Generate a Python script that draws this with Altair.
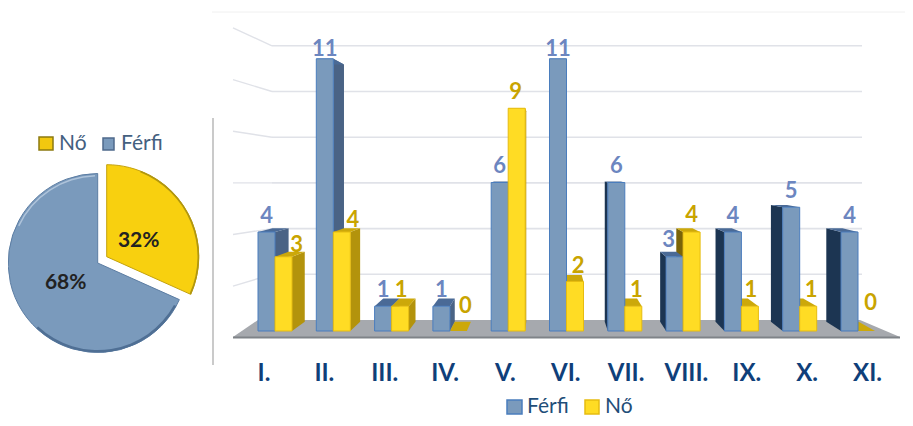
import altair as alt
import pandas as pd

# ---------- data ----------
categories = ["I.", "II.", "III.", "IV.", "V.", "VI.", "VII.", "VIII.", "IX.", "X.", "XI."]
ferfi = [4, 11, 1, 1, 6, 11, 6, 3, 4, 5, 4]
no = [3, 4, 1, 0, 9, 2, 1, 4, 1, 1, 0]
series_names = ["Férfi", "Nő"]

# ---------- layout (screen geometry of the picture, not data) ----------
W, H = 897, 410
BASE_PX, UNIT_PX = 331.0, 24.75
BAR0_X, BAR_STEP, BAR_W = 258.0, 58.3, 17.0
LABEL0_X, LABEL_STEP = 264.0, 60.35
VX, KX, VY_PX, KY = 547.0, 0.05, 165.0, 0.055
LEGEND_Y = 407
TEXT_SHIFT = 1.5
FONT = "Lato"
nudge_f = [(0, 0), (0, 7), (0, 0), (0, 0), (0, 0), (0, 7), (0, 0), (-6, 0), (0, 0), (0, 0), (0, 0)]
nudge_n = [(13, 5), (11, 4), (1, 0), (7, -9), (-1, 0), (3, 1), (3, 0), (0, -1), (1, 0), (3, 0), (4, -12)]

C = dict(
    f_front="#7A9ABC", f_stroke="#4A7DBD", f_side_l="#4A6385", f_side_r="#1C3552", f_top="#4A6A96",
    n_front="#FFDC24", n_stroke="#E6BC10", n_side_l="#B3930C", n_side_r="#7A6408", n_top="#CCA80A",
    f_label="#6C86C0", n_label="#C9A400", cat="#0F3F7A", legend="#1F4E79", legend2="#44607F",
    floor="#A6A9AE", floor_edge="#7F8388", grid="#E0E2E8",
)


def val(px):
    return (BASE_PX - px) / UNIT_PX


VP_V = val(VY_PX)


def back_x(x):
    return x + KX * (VX - x)


def back_v(v):
    return v + KY * (VP_V - v)


xs = alt.Scale(domain=[8, 8 + W], nice=False, zero=False)
ys = alt.Scale(domain=[val(8 + H), val(8)], nice=False, zero=False)
X = alt.X("x:Q", scale=xs, axis=None)
Y = alt.Y("y:Q", scale=ys, axis=None, stack=False)

# ---------- 3-D faces ----------
faces, fronts, labels = [], [], []
fid = 0


def add_side(edge, v, col):
    global fid
    fid += 1
    xb = back_x(edge)
    faces.append(dict(face=fid, x=edge, y=v, y0=0.0, col=col))
    faces.append(dict(face=fid, x=xb, y=back_v(v), y0=back_v(0.0), col=col))


def add_top(x0, x1, v, col):
    global fid
    fid += 1
    a, b = back_x(x0), back_x(x1)
    vb = back_v(v)
    if a >= x0:
        pts = [(x0, v, v), (a, vb, v), (x1, vb, v), (b, vb, vb)]
    else:
        pts = [(a, vb, vb), (x0, vb, v), (b, vb, v), (x1, v, v)]
    for x, t, bt in pts:
        faces.append(dict(face=fid, x=x, y=t, y0=bt, col=col))


def add_bar_faces(x0, x1, v, key):
    if x1 < VX:
        if v > 0:
            add_side(x1, v, C[key + "_side_l"])
    elif x0 > VX:
        if v > 0:
            add_side(x0, v, C[key + "_side_r"])
    add_top(x0, x1, v, C[key + "_top"])


for i, cat in enumerate(categories):
    xf0 = BAR0_X + BAR_STEP * i
    xm = xf0 + BAR_W
    xn1 = xm + BAR_W
    pair = [(xf0, xm, ferfi[i], "f"), (xm, xn1, no[i], "n")]
    if xm > VX:
        pair = pair[::-1]
    for p in pair:
        add_bar_faces(*p)
    if ferfi[i] > 0:
        fronts.append(dict(x=xf0, x2=xm, y=ferfi[i], y0=0.0, s=series_names[0]))
    if no[i] > 0:
        fronts.append(dict(x=xm, x2=xn1, y=no[i], y0=0.0, s=series_names[1]))
    dx, dy = nudge_f[i]
    labels.append(dict(x=(xf0 + xm) / 2 + dx, y=val(BASE_PX - UNIT_PX * ferfi[i] - 18 + dy + TEXT_SHIFT), t=str(ferfi[i]), col=C["f_label"]))
    dx, dy = nudge_n[i]
    labels.append(dict(x=(xm + xn1) / 2 + dx, y=val(BASE_PX - UNIT_PX * no[i] - 18 + dy + TEXT_SHIFT), t=str(no[i]), col=C["n_label"]))

face_df = pd.DataFrame(faces)
front_df = pd.DataFrame(fronts)
label_df = pd.DataFrame(labels)

faces_layer = alt.Chart(face_df).mark_area(opacity=1).encode(
    x=X, y=Y, y2=alt.Y2("y0:Q"), detail="face:N", color=alt.Color("col:N", scale=None)
)
front_layers = [
    alt.Chart(front_df[front_df.s == s]).mark_rect(fill=C[k + "_front"], stroke=C[k + "_stroke"], strokeWidth=1).encode(
        x=X, x2="x2:Q", y=Y, y2=alt.Y2("y0:Q")
    )
    for s, k in zip(series_names, "fn")
]

# ---------- wall and floor ----------
floor_df = pd.DataFrame([
    dict(x=233, y=val(337), y0=val(337)),
    dict(x=258, y=val(320), y0=val(337)),
    dict(x=860, y=val(320), y0=val(337)),
    dict(x=900, y=val(337), y0=val(337)),
])
floor = alt.Chart(floor_df).mark_area(color=C["floor"], opacity=1).encode(x=X, y=Y, y2=alt.Y2("y0:Q"))
floor_edge = alt.Chart(pd.DataFrame([dict(x=233, x2=900, y=val(337.5))])).mark_rule(
    color=C["floor_edge"], strokeWidth=2
).encode(x=X, x2="x2:Q", y=Y)

grid_rows, wall_rows = [], []
for l in range(1, 7):
    yb = 320 - 45.7 * l
    grid_rows.append(dict(x=272, x2=862, y=val(yb)))
    wall_rows.append(dict(l=l, x=272, y=val(yb)))
    wall_rows.append(dict(l=l, x=233, y=val(183 + (yb - 183) * 1.13)))
grid = alt.Chart(pd.DataFrame(grid_rows)).mark_rule(color=C["grid"], strokeWidth=1.6).encode(x=X, x2="x2:Q", y=Y)
wall = alt.Chart(pd.DataFrame(wall_rows)).mark_line(color=C["grid"], strokeWidth=1.4).encode(x=X, y=Y, detail="l:N")

top_rule = alt.Chart(pd.DataFrame([dict(x=212, x2=905, y=val(12))])).mark_rule(color="#F0F0F0", strokeWidth=1).encode(x=X, x2="x2:Q", y=Y)
divider = alt.Chart(pd.DataFrame([dict(x=213, y=val(118), y0=val(365))])).mark_rule(color="#B8B8B8", strokeWidth=1.5).encode(x=X, y=Y, y2=alt.Y2("y0:Q"))

# ---------- text ----------
bar_labels = alt.Chart(label_df).mark_text(font=FONT, fontSize=22, fontWeight="bold").encode(
    x=X, y=Y, text="t:N", color=alt.Color("col:N", scale=None)
)
cat_df = pd.DataFrame([dict(x=LABEL0_X + LABEL_STEP * i, y=val(372 + TEXT_SHIFT), t=c) for i, c in enumerate(categories)])
cat_labels = alt.Chart(cat_df).mark_text(font=FONT, fontSize=24, fontWeight="bold", color=C["cat"]).encode(x=X, y=Y, text="t:N")

legend_text = alt.Chart(pd.DataFrame([
    dict(x=527, y=val(LEGEND_Y), t=series_names[0], col=C["legend"]),
    dict(x=605, y=val(LEGEND_Y), t=series_names[1], col=C["legend"]),
    dict(x=59, y=val(144), t=series_names[1], col=C["legend2"]),
    dict(x=121, y=val(144), t=series_names[0], col=C["legend2"]),
])).mark_text(font=FONT, fontSize=21, align="left").encode(x=X, y=Y, text="t:N", color=alt.Color("col:N", scale=None))

swatch_df = pd.DataFrame([
    dict(x=507, x2=522, y=val(LEGEND_Y - 7), y0=val(LEGEND_Y + 7), f=C["f_front"], s=C["f_stroke"]),
    dict(x=585, x2=599, y=val(LEGEND_Y - 7), y0=val(LEGEND_Y + 7), f=C["n_front"], s=C["n_stroke"]),
    dict(x=39, x2=53, y=val(137), y0=val(150), f="#F2C80F", s="#8C7A10"),
    dict(x=103, x2=114, y=val(138), y0=val(150), f=C["f_front"], s="#4F6A8C"),
])
swatches = alt.Chart(swatch_df).mark_rect(strokeWidth=1.5).encode(
    x=X, x2="x2:Q", y=Y, y2=alt.Y2("y0:Q"),
    fill=alt.Fill("f:N", scale=None), stroke=alt.Stroke("s:N", scale=None),
)

# ---------- pie ----------
men, women = sum(ferfi), sum(no)
share_n = women / (men + women)
th = alt.Scale(domain=[0, 1], range=[0, 6.283185307])


def arc(t0, t1, cx, cy, r, r0, fill, stroke=None):
    kw = dict(outerRadius=r, innerRadius=r0, fill=fill)
    if stroke:
        kw.update(stroke=stroke, strokeWidth=1)
    return alt.Chart(pd.DataFrame([dict(t0=t0, t1=t1)])).mark_arc(**kw).encode(
        theta=alt.Theta("t0:Q", scale=th, stack=False),
        theta2="t1:Q",
        x=alt.value(cx - 8),
        y=alt.value(cy - 8),
    )


FX, FY, NX, NY = 97.7, 263.0, 106.7, 256.7
pie = [
    arc(share_n, 1.0, FX, FY, 89.5, 0, "#7A9ABC", "#5C7DA3"),
    arc(0.82, 0.995, FX, FY, 88.0, 86.5, "#AEC3DA"),
    arc(0.33, 0.62, FX, FY, 89.5, 87.0, "#4F6F94"),
    arc(0.0, share_n, NX, NY, 92.0, 0, "#F8D00F", "#C4A20C"),
    arc(0.06, share_n, NX, NY, 92.5, 90.8, "#B09610"),
]
pct = alt.Chart(pd.DataFrame([
    dict(x=138.7, y=val(239 + TEXT_SHIFT), t=f"{round(share_n * 100)}%"),
    dict(x=65.7, y=val(281 + TEXT_SHIFT), t=f"{round((1 - share_n) * 100)}%"),
])).mark_text(font=FONT, fontSize=21, fontWeight="bold", color="#222222").encode(x=X, y=Y, text="t:N")

chart = alt.layer(
    top_rule, divider, grid, wall, floor, floor_edge, faces_layer, *front_layers,
    bar_labels, cat_labels, swatches, legend_text, *pie, pct,
).properties(width=W, height=H, padding=0, autosize="none", background="white").configure_view(stroke=None)

chart.save("out.html", embed_options={"renderer": "svg", "actions": False})
